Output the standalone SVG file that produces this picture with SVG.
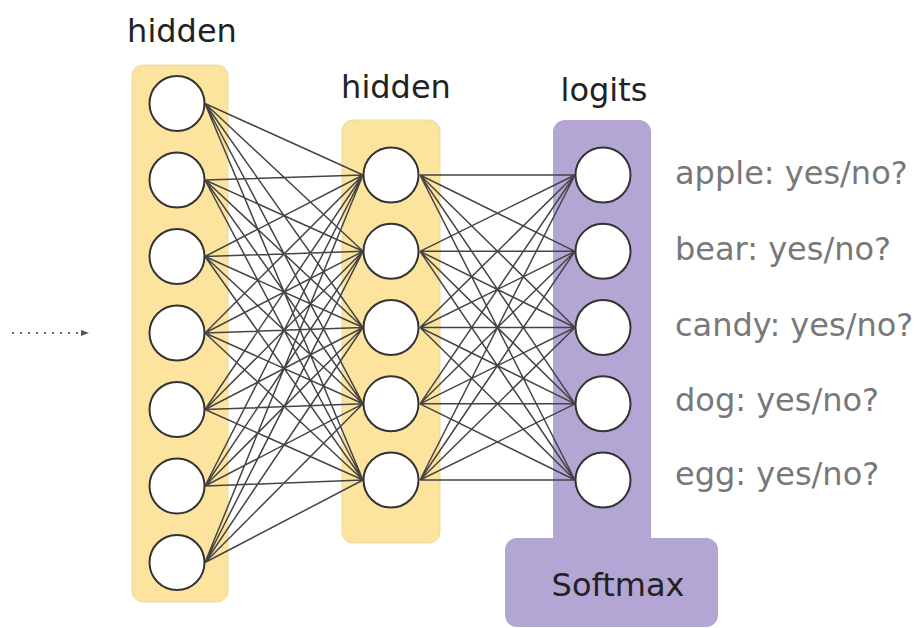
<svg xmlns="http://www.w3.org/2000/svg" width="919" height="628" viewBox="0 0 919 628">
<style>
.panel-y{fill:#FDE49E;stroke:#EBD9A8;stroke-width:1}
.panel-p{fill:#B3A6D4}
.node{fill:#fff;stroke:#333;stroke-width:2}
.edge{stroke:#444;stroke-width:1.5;fill:none}
.title{font-family:"DejaVu Sans",Verdana,sans-serif;font-size:32px;fill:#222}
.lbl{font-family:"DejaVu Sans",Verdana,sans-serif;font-size:32px;fill:#787878}
</style>
<defs>
<marker id="ah" markerWidth="8" markerHeight="8" refX="7" refY="4" orient="auto" markerUnits="userSpaceOnUse">
<path d="M0,1 L8,4 L0,7 Z" fill="#555"/>
</marker>
</defs>
<rect width="919" height="628" fill="#fff"/>
<g id="panels">
<rect class="panel-y" x="132" y="65" width="96" height="537" rx="11"/>
<rect class="panel-y" x="342" y="120" width="98" height="423" rx="11"/>
<rect class="panel-p" x="553" y="120" width="98" height="430" rx="12"/>
<rect class="panel-p" x="505" y="538" width="213" height="89" rx="12"/>
</g>
<g id="titles">
<text class="title" x="182" y="42" text-anchor="middle">hidden</text>
<text class="title" x="396" y="98" text-anchor="middle">hidden</text>
<text class="title" x="604" y="101" text-anchor="middle">logits</text>
<text class="title" x="618" y="596" text-anchor="middle">Softmax</text>
</g>
<g id="connectors">
<line x1="12" y1="333" x2="88" y2="333" stroke="#666" stroke-width="2" stroke-dasharray="2,6" marker-end="url(#ah)"/>
<g class="edge">
<path d="M205,103.5 L363,175 M205,103.5 L363,251.3 M205,103.5 L363,327.5 M205,103.5 L363,403.8 M205,103.5 L363,480
M205,180 L363,175 M205,180 L363,251.3 M205,180 L363,327.5 M205,180 L363,403.8 M205,180 L363,480
M205,256.5 L363,175 M205,256.5 L363,251.3 M205,256.5 L363,327.5 M205,256.5 L363,403.8 M205,256.5 L363,480
M205,333 L363,175 M205,333 L363,251.3 M205,333 L363,327.5 M205,333 L363,403.8 M205,333 L363,480
M205,409.5 L363,175 M205,409.5 L363,251.3 M205,409.5 L363,327.5 M205,409.5 L363,403.8 M205,409.5 L363,480
M205,486 L363,175 M205,486 L363,251.3 M205,486 L363,327.5 M205,486 L363,403.8 M205,486 L363,480
M205,562.5 L363,175 M205,562.5 L363,251.3 M205,562.5 L363,327.5 M205,562.5 L363,403.8 M205,562.5 L363,480"/>
<path d="M420,175 L575,175 M420,175 L575,251.3 M420,175 L575,327.5 M420,175 L575,403.8 M420,175 L575,480
M420,251.3 L575,175 M420,251.3 L575,251.3 M420,251.3 L575,327.5 M420,251.3 L575,403.8 M420,251.3 L575,480
M420,327.5 L575,175 M420,327.5 L575,251.3 M420,327.5 L575,327.5 M420,327.5 L575,403.8 M420,327.5 L575,480
M420,403.8 L575,175 M420,403.8 L575,251.3 M420,403.8 L575,327.5 M420,403.8 L575,403.8 M420,403.8 L575,480
M420,480 L575,175 M420,480 L575,251.3 M420,480 L575,327.5 M420,480 L575,403.8 M420,480 L575,480"/>
</g>
</g>
<g id="h1-0"><circle class="node" cx="177" cy="103.5" r="27.5"/></g>
<g id="h1-1"><circle class="node" cx="177" cy="180" r="27.5"/></g>
<g id="h1-2"><circle class="node" cx="177" cy="256.5" r="27.5"/></g>
<g id="h1-3"><circle class="node" cx="177" cy="333" r="27.5"/></g>
<g id="h1-4"><circle class="node" cx="177" cy="409.5" r="27.5"/></g>
<g id="h1-5"><circle class="node" cx="177" cy="486" r="27.5"/></g>
<g id="h1-6"><circle class="node" cx="177" cy="562.5" r="27.5"/></g>
<g id="h2-0"><circle class="node" cx="391" cy="175" r="27.5"/></g>
<g id="h2-1"><circle class="node" cx="391" cy="251.3" r="27.5"/></g>
<g id="h2-2"><circle class="node" cx="391" cy="327.5" r="27.5"/></g>
<g id="h2-3"><circle class="node" cx="391" cy="403.8" r="27.5"/></g>
<g id="h2-4"><circle class="node" cx="391" cy="480" r="27.5"/></g>
<g id="logit-apple"><circle class="node" cx="603" cy="175" r="27.5"/><text class="lbl" x="675" y="184">apple: yes/no?</text></g>
<g id="logit-bear"><circle class="node" cx="603" cy="251.3" r="27.5"/><text class="lbl" x="675" y="260">bear: yes/no?</text></g>
<g id="logit-candy"><circle class="node" cx="603" cy="327.5" r="27.5"/><text class="lbl" x="675" y="336">candy: yes/no?</text></g>
<g id="logit-dog"><circle class="node" cx="603" cy="403.8" r="27.5"/><text class="lbl" x="675" y="411">dog: yes/no?</text></g>
<g id="logit-egg"><circle class="node" cx="603" cy="480" r="27.5"/><text class="lbl" x="675" y="485">egg: yes/no?</text></g>
</svg>
